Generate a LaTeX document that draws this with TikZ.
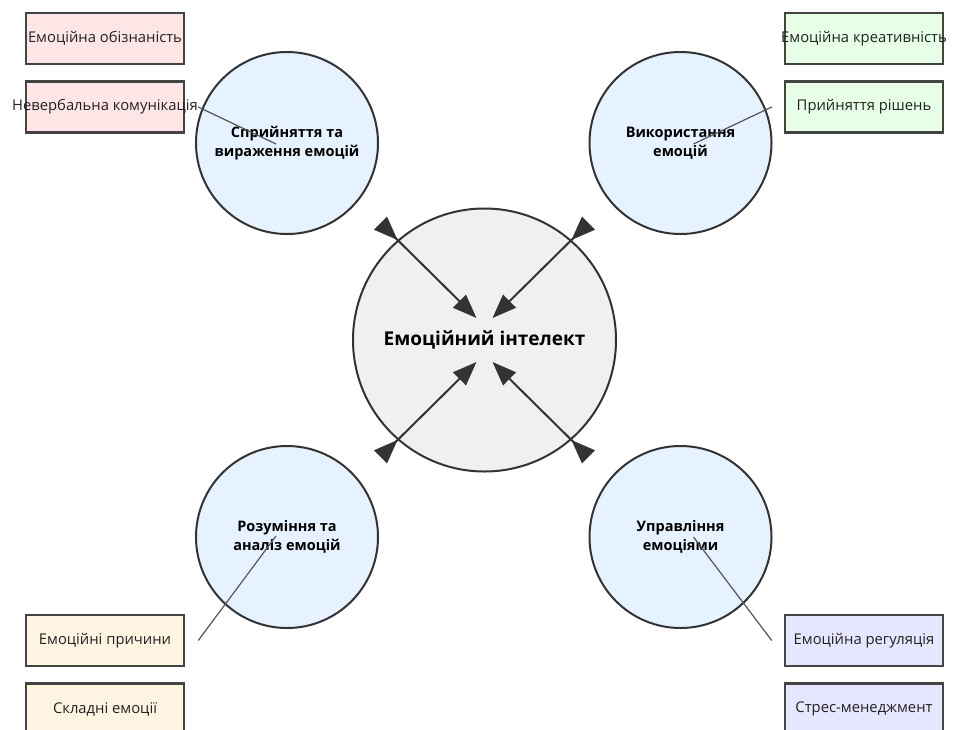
\documentclass[tikz,border=0pt]{standalone}
\usepackage{fontspec}
\setmainfont{Open Sans}
\usepackage{xcolor}
\usetikzlibrary{arrows.meta,positioning,calc}

\definecolor{linegray}{HTML}{333333}
\definecolor{boxgray}{HTML}{444444}
\definecolor{leafgray}{HTML}{555555}
\definecolor{textgray}{HTML}{222222}
\definecolor{coregray}{HTML}{F0F0F0}
\definecolor{areablue}{HTML}{E6F2FF}
\definecolor{pinkbox}{HTML}{FFE6E6}
\definecolor{greenbox}{HTML}{E6FFE6}
\definecolor{creambox}{HTML}{FFF3E2}
\definecolor{lilacbox}{HTML}{E6E6FF}

\begin{document}
\begin{tikzpicture}[
  x=1pt, y=-1pt,
  core/.style={circle, draw=linegray, line width=2pt, fill=coregray, minimum size=263pt, inner sep=0pt, font=\bfseries\fontsize{19}{23}\selectfont},
  area/.style={circle, draw=linegray, line width=2pt, fill=areablue, minimum size=182pt, inner sep=0pt, align=center, font=\bfseries\fontsize{14.5}{19.5}\selectfont},
  box/.style={rectangle, draw=boxgray, line width=2.5pt, minimum width=158pt, minimum height=51pt, inner sep=0pt, text=textgray, font=\fontsize{14.8}{18}\selectfont},
  arrow/.style={{Triangle[reversed,length=24pt,width=18pt]}-{Triangle[length=24pt,width=18pt]}, line width=2pt, draw=linegray, fill=linegray},
  leaf/.style={draw=leafgray, line width=1.2pt}
]
  \clip (0,0) rectangle (972,729);
  \fill[white] (0,0) rectangle (972,729);

  \node[core] (ei) at (484.5,340) {Емоційний інтелект};
  \node[area] (sp) at (287,143) {Сприйняття та\\вираження емоцій};
  \node[area] (vk) at (680.5,143) {Використання\\емоцій};
  \node[area] (rz) at (287,537) {Розуміння та\\аналіз емоцій};
  \node[area] (up) at (680.5,537) {Управління\\емоціями};

  \node[box, fill=pinkbox] (ob) at (105,38.5) {Емоційна обізнаність};
  \node[box, fill=pinkbox, below=15pt of ob] (nk) {\makebox[0pt]{Невербальна комунікація}};
  \node[box, fill=greenbox] (kr) at (864,38.5) {\makebox[0pt]{Емоційна креативність}};
  \node[box, fill=greenbox, below=15pt of kr] (pr) {Прийняття рішень};
  \node[box, fill=creambox] (ep) at (105,640.5) {Емоційні причини};
  \node[box, fill=creambox, below=15pt of ep] (sk) {Складні емоції};
  \node[box, fill=lilacbox] (er) at (864,640.5) {Емоційна регуляція};
  \node[box, fill=lilacbox, below=15pt of er] (sm) {Стрес-менеджмент};

  \draw[leaf] ([xshift=13pt]nk.east) -- ([xshift=-11pt,yshift=-1pt]sp.center);
  \draw[leaf] ([xshift=-12pt]pr.west) -- ([xshift=13pt,yshift=-1pt]vk.center);
  \draw[leaf] ([xshift=13pt]ep.east) -- ([xshift=-11pt,yshift=1pt]rz.center);
  \draw[leaf] ([xshift=-12pt]er.west) -- ([xshift=13pt]up.center);

  \coordinate (t1) at ($(ei.center)+(-8,-22)$);
  \coordinate (t2) at ($(ei.center)+(8,-22)$);
  \coordinate (t3) at ($(ei.center)+(-8,22)$);
  \coordinate (t4) at ($(ei.center)+(8,22)$);

  \draw[arrow] ($(ei.131)!-24pt!(t1)$) -- (t1);
  \draw[arrow] ($(ei.49)!-24pt!(t2)$) -- (t2);
  \draw[arrow] ($(ei.229)!-24pt!(t3)$) -- (t3);
  \draw[arrow] ($(ei.311)!-24pt!(t4)$) -- (t4);
\end{tikzpicture}
\end{document}
